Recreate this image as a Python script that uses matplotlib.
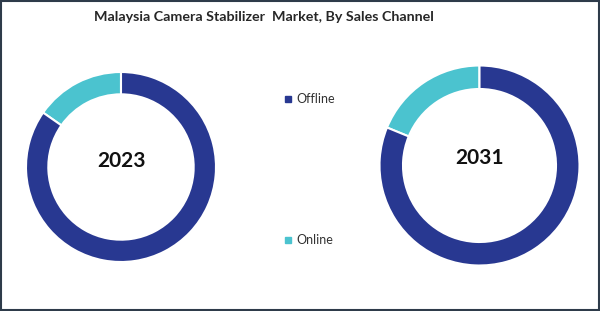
import matplotlib
matplotlib.use("Agg")
import matplotlib.pyplot as plt
from matplotlib.patches import Rectangle
from matplotlib.lines import Line2D

plt.rcParams['font.family'] = ['Lato', 'DejaVu Sans']

title = "Malaysia Camera Stabilizer  Market, By Sales Channel"
channels = ["Online", "Offline"]
years = ["2023", "2031"]
share_2023 = [15.3, 84.7]
share_2031 = [18.8, 81.2]
colors = {"Online": "#4BC3CF", "Offline": "#283891"}

W, H = 600, 311
fig = plt.figure(figsize=(6.0, 3.11), dpi=100)
fig.patch.set_facecolor("white")

def donut(cx, cy, r, values, label, ty):
    ax = fig.add_axes([(cx - r) / W, (H - cy - r) / H, 2 * r / W, 2 * r / H])
    ax.pie(values, colors=[colors[c] for c in channels], startangle=90,
           counterclock=True, radius=1.0,
           wedgeprops=dict(width=0.235, edgecolor="white", linewidth=1.5))
    ax.set_xlim(-1, 1)
    ax.set_ylim(-1, 1)
    ax.set_aspect("equal")
    ax.axis("off")
    ax.text(0, ty, label, ha="center", va="center", fontsize=15,
            fontweight="bold", color="#111111")

donut(121, 167, 95, share_2023, years[0], 0.06)
donut(479.5, 165.5, 100, share_2031, years[1], 0.08)

fig.text(264 / W, 1 - 17 / H, title, ha="center", va="center", fontsize=10.3,
         fontweight="bold", color="#262626")

# legend entries
for name, ypx in [("Offline", 99), ("Online", 240)]:
    fig.add_artist(Line2D([288 / W], [1 - ypx / H], marker="s", markersize=4.5,
                          color=colors[name], linestyle="none",
                          transform=fig.transFigure))
    fig.text(296 / W, 1 - ypx / H, name, ha="left", va="center", fontsize=9,
             color="#333333")

fig.add_artist(Rectangle((0.002, 0.003), 0.996, 0.994, transform=fig.transFigure,
                         fill=False, edgecolor="#2E3B4A", linewidth=1.5))

fig.savefig("out.png", dpi=100, facecolor="white")
